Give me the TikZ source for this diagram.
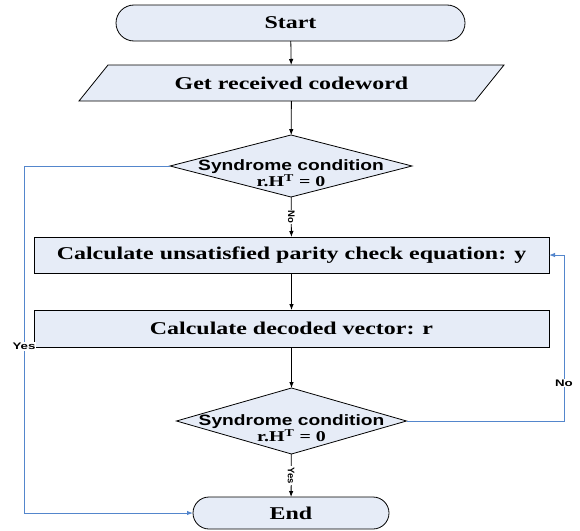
\documentclass[tikz,border=0pt]{standalone}
\usepackage{fontspec}
\setmainfont{Liberation Serif}[FakeStretch=1.33]
\newfontfamily\arfont{Liberation Sans}[FakeStretch=1.28]
\newfontfamily\labfont{Liberation Sans}[FakeStretch=1.4]
\newfontfamily\rlabfont{Liberation Sans}
\usetikzlibrary{shapes.geometric,shapes.misc,arrows.meta,calc,backgrounds}
\definecolor{boxfill}{RGB}{230,236,247}
\definecolor{linkblue}{RGB}{84,134,204}
\begin{document}
\begin{tikzpicture}[x=1pt,y=-1pt,
  every node/.style={inner sep=0pt, outer sep=0pt},
  flow/.style={draw=black, line width=0.8pt, fill=boxfill},
  bigtext/.style={font=\fontsize{18}{20}\selectfont\bfseries},
  term/.style={flow, rounded rectangle, bigtext},
  procbox/.style={flow, rectangle, minimum width=515pt, bigtext},
  decision/.style={flow, diamond},
  dtext/.style={align=center, font=\fontsize{15}{16.5}\selectfont\bfseries},
  conn/.style={draw=black, line width=0.8pt, -{Latex[length=6pt,width=4.5pt]}},
  bconn/.style={draw=linkblue, line width=1pt, -{Latex[length=6pt,width=4.5pt]}},
  hlab/.style={fill=white, inner sep=1pt, font=\labfont\fontsize{9.5}{10}\selectfont\bfseries},
  vlab/.style={fill=white, inner sep=1pt, rotate=-90, font=\rlabfont\fontsize{9.5}{10}\selectfont\bfseries}
]
\useasboundingbox (0,0) rectangle (580,530);

\node[term, minimum width=349pt, minimum height=36pt] (start) at (290.5,23) {Start};
\node[bigtext, minimum width=396pt, minimum height=36pt] (get) at (291.5,83) {Get received codeword};
\begin{scope}[on background layer]
  \draw[flow] ($(get.south west)+(-14.5,0)$) -- ($(get.north west)+(14.5,0)$)
    -- ($(get.north east)+(14.5,0)$) -- ($(get.south east)+(-14.5,0)$) -- cycle;
\end{scope}

\node[decision, minimum width=242pt, minimum height=62pt] (d1) at (291,166) {};
\node[dtext] (d1t) at (291,173) {{\arfont Syndrome condition}\\ r.H\textsuperscript{T} = 0};

\node[procbox, minimum height=36pt] (box1) at (291.5,255) {Calculate unsatisfied parity check equation: y};
\node[procbox, minimum height=37pt] (box2) at (291.5,328.5) {Calculate decoded vector: r};

\node[decision, minimum width=230pt, minimum height=66pt] (d2) at (291.5,421) {};
\node[dtext] (d2t) at (291.5,428) {{\arfont Syndrome condition}\\ r.H\textsuperscript{T} = 0};

\node[term, minimum width=196pt, minimum height=32pt] (end) at (291,513) {End};

\coordinate (lt) at (24,166);
\coordinate (lb) at (24,513);
\coordinate (rb) at (564,421);
\coordinate (rt) at (564,255);

\draw[conn] (start) -- (get);
\draw[conn] (get) -- (d1);
\draw[conn] (d1) -- node[vlab] {No} (box1);
\draw[conn] (box1) -- (box2);
\draw[conn] (box2) -- (d2);
\draw[conn] (d2) -- node[vlab] {Yes} (end);

\draw[bconn] (d1.west) -- (lt) -- node[hlab, pos=0.52] {Yes} (lb) -- (end.west);
\draw[bconn] (d2.east) -- (rb) -- node[hlab, pos=0.23] {No} (rt) -- (box1.east);
\end{tikzpicture}
\end{document}
